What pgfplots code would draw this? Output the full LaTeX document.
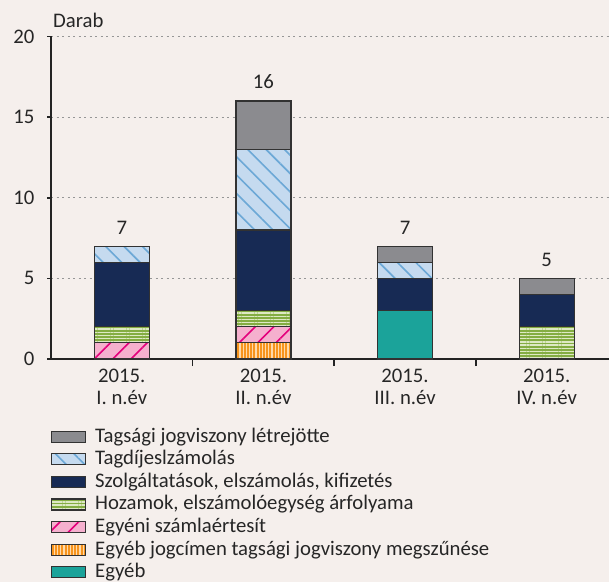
\documentclass[border=0pt]{standalone}
\usepackage{fontspec}
\setmainfont{Carlito}
\usepackage{pgfplots}
\pgfplotsset{compat=1.18}
\usetikzlibrary{patterns.meta}

\definecolor{bgc}{RGB}{245,239,236}
\definecolor{txt}{RGB}{38,38,38}
\definecolor{axc}{RGB}{35,35,35}
\definecolor{gridc}{RGB}{150,150,150}
\definecolor{outl}{RGB}{50,50,50}
\definecolor{cgray}{RGB}{139,139,143}
\definecolor{cblue}{RGB}{197,218,239}
\definecolor{cbluel}{RGB}{108,168,214}
\definecolor{cnavy}{RGB}{23,42,84}
\definecolor{cgreen}{RGB}{132,173,66}
\definecolor{cgreenl}{RGB}{222,233,196}
\definecolor{cpink}{RGB}{245,176,206}
\definecolor{cpinkl}{RGB}{228,0,124}
\definecolor{corange}{RGB}{247,148,29}
\definecolor{corangel}{RGB}{255,218,170}
\definecolor{cteal}{RGB}{27,163,154}

\newcommand{\chartfont}{\fontsize{20.8}{21.3}\selectfont}

\pgfplotsset{
  geom/.style={
    at={(51bp,223bp)}, anchor=south west,
    scale only axis, width=558bp, height=322.5bp,
    xmin=-0.5, xmax=3.44, ymin=0, ymax=20, clip=false,
    /pgf/number format/assume math mode=true,
  }
}

\begin{document}
\begin{tikzpicture}
\fill[bgc] (0,0) rectangle (609bp,582bp);
\begin{axis}[
  geom,
  ybar stacked, bar width=55bp,
  legend image code/.code={\draw[#1] (0bp,-5.5bp) rectangle (34bp,5.5bp);},
  axis x line=bottom, axis y line=left,
  axis line style={-, line width=1.6bp, draw=axc},
  xtick={0,1,2,3},
  xticklabels={{2015.\\I. n.év},{2015.\\II. n.év},{2015.\\III. n.év},{2015.\\IV. n.év}},
  xticklabel style={align=center, yshift=-3bp},
  major x tick style={draw=none},
  minor xtick={0.5,1.5,2.5},
  minor x tick style={draw=axc, line width=1.6bp},
  minor tick length=7bp,
  ytick={0,5,10,15,20},
  yticklabel style={xshift=-9bp},
  major y tick style={draw=axc, line width=1.6bp},
  major tick length=4bp,
  tick align=outside,
  ymajorgrids,
  grid style={gridc, line width=1.2bp, dash pattern=on 2bp off 3.5bp},
  tick label style={font=\chartfont, text=txt},
  legend style={at={(0,-0.206)}, anchor=north west, draw=none, fill=none,
    inner sep=0pt, outer sep=0pt, font=\chartfont, text=txt,
    nodes={text height=14.6bp, text depth=4bp, inner sep=2bp},
    /tikz/every odd column/.append style={column sep=7bp}},
  legend cell align=left,
  reverse legend,
]
\addplot[fill=cteal, draw=outl, line width=1.2bp] coordinates {(0,0) (1,0) (2,3) (3,0)};
\addlegendentry{Egyéb}
\addplot[preaction={fill=corange}, pattern={Lines[angle=90,distance=3.2bp,line width=1.3bp]}, pattern color=corangel, draw=outl, line width=1.2bp] coordinates {(0,0) (1,1) (2,0) (3,0)};
\addlegendentry{Egyéb jogcímen tagsági jogviszony megszűnése}
\addplot[preaction={fill=cpink}, pattern={Lines[angle=45,distance=13bp,line width=1.6bp]}, pattern color=cpinkl, draw=outl, line width=1.2bp] coordinates {(0,1) (1,1) (2,0) (3,0)};
\addlegendentry{Egyéni számlaértesít}
\addplot[preaction={fill=cgreen}, pattern={Lines[angle=0,distance=3.2bp,line width=1.4bp]}, pattern color=cgreenl, draw=outl, line width=1.2bp] coordinates {(0,1) (1,1) (2,0) (3,2)};
\addlegendentry{Hozamok, elszámolóegység árfolyama}
\addplot[fill=cnavy, draw=outl, line width=1.2bp] coordinates {(0,4) (1,5) (2,2) (3,2)};
\addlegendentry{Szolgáltatások, elszámolás, kifizetés}
\addplot[preaction={fill=cblue}, pattern={Lines[angle=-45,distance=13bp,line width=1.6bp]}, pattern color=cbluel, draw=outl, line width=1.2bp] coordinates {(0,1) (1,5) (2,1) (3,0)};
\addlegendentry{Tagdíjeslzámolás}
\addplot[fill=cgray, draw=outl, line width=1.2bp] coordinates {(0,0) (1,3) (2,1) (3,1)};
\addlegendentry{Tagsági jogviszony létrejötte}
\node[anchor=base west, inner sep=0pt, font=\chartfont, text=txt] at ([xshift=2bp,yshift=9bp]rel axis cs:0,1) {Darab};
\end{axis}
\begin{axis}[geom, hide axis]
\addplot[only marks, mark=none, nodes near coords, point meta=y,
  every node near coord/.append style={font=\chartfont, text=txt, anchor=base, yshift=12bp, inner sep=0pt}]
  coordinates {(0,7) (1,16) (2,7) (3,5)};
\end{axis}
\pgfresetboundingbox
\path (0,0) rectangle (609bp,582bp);
\end{tikzpicture}
\end{document}
